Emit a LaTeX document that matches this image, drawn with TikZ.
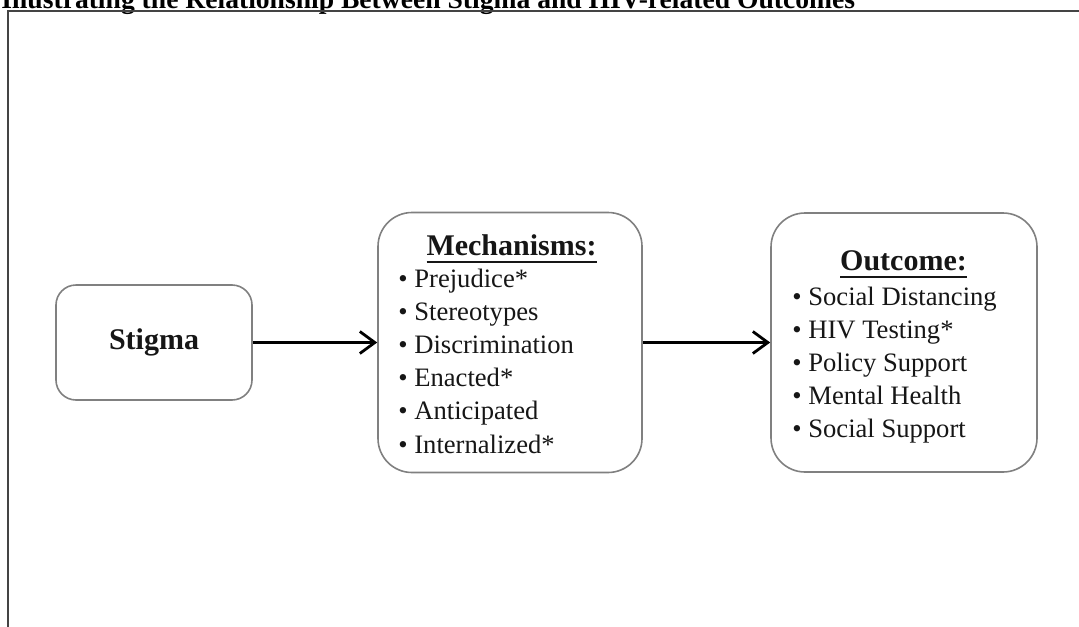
\documentclass[tikz,border=0pt]{standalone}
\usepackage{fontspec}
\setmainfont{Liberation Serif}
\usetikzlibrary{arrows.meta}
\definecolor{frameColor}{RGB}{68,68,68}
\definecolor{boxColor}{RGB}{128,128,128}
\definecolor{inkColor}{RGB}{22,22,22}
\tikzstyle{frameLine} = [color=frameColor, line width=1pt]
\tikzstyle{boxStyle} = [draw=boxColor, line width=0.8pt, fill=white, text=inkColor]
\tikzstyle{flowArrow} = [color=black, line width=1.4pt, -{Straight Barb[length=7.5pt, width=11pt]}]
\tikzstyle{headText} = [text=inkColor, inner sep=0pt, anchor=base, font=\fontsize{15}{18}\selectfont\bfseries]
\tikzstyle{itemText} = [text=inkColor, inner sep=0pt, anchor=base west, font=\fontsize{13.3}{16}\selectfont]
\tikzstyle{titleText} = [text=black, inner sep=0pt, anchor=base west, font=\fontsize{13.8}{16}\selectfont\bfseries]
\newcommand{\headLine}[1]{\setbox0\hbox{#1}\rlap{\rule[-4pt]{\wd0}{1pt}}\box0}
\newcommand{\itemLine}[4]{\node [itemText] (#1) at (#2, #3) {\textbullet\ #4};}

\begin{document}
\begin{tikzpicture}[x = 0.5pt, y = -0.5pt]
      \useasboundingbox (0, 0) rectangle (1079, 626);
      \begin{scope}
        \clip (0, 0) rectangle (1079, 626);
        \node [titleText] (title) at (1, 8.5) {Illustrating the Relationship Between Stigma and HIV-related Outcomes};
        \draw [frameLine] (8, 660) -- (8, 11) -- (1100, 11);
      \end{scope}

      \node [boxStyle, rounded corners = 10pt, minimum width = 98pt, minimum height = 57.5pt,
        font=\fontsize{15}{18}\selectfont\bfseries] (stigma) at (154, 342.5) {Stigma};
      \node [boxStyle, rounded corners = 17pt, minimum width = 132pt, minimum height = 130pt] (mech) at (510, 342.5) {};
      \node [boxStyle, rounded corners = 17pt, minimum width = 133pt, minimum height = 129.5pt] (outcome) at (904, 342.5) {};

      \node [headText] (mechHead) at (511.5, 255) {\headLine{Mechanisms:}};
      \foreach \word [count = \n] in {Prejudice*, Stereotypes, Discrimination, Enacted*, Anticipated, Internalized*} {
        \itemLine{mech\n}{398}{{253.8 + 33.2 * \n}}{\word}
      }

      \node [headText] (outcomeHead) at (903.5, 270) {\headLine{Outcome:}};
      \foreach \word [count = \n] in {Social Distancing, HIV Testing*, Policy Support, Mental Health, Social Support} {
        \itemLine{outcome\n}{792}{{271.9 + 33.1 * \n}}{\word}
      }

      \draw [flowArrow] (stigma) -- (mech);
      \draw [flowArrow] (mech) -- (outcome);
    \end{tikzpicture}
\end{document}
